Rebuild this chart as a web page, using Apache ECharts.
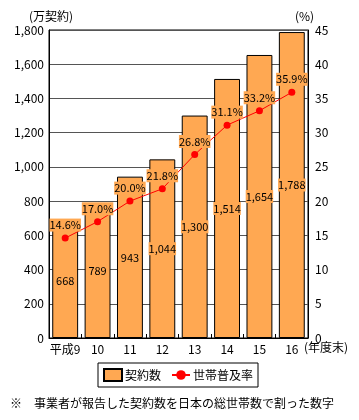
<!DOCTYPE html>
<html>
<head>
<meta charset="utf-8">
<script src="https://cdn.jsdelivr.net/npm/echarts@6/dist/echarts.min.js"></script>
<style>html,body{margin:0;padding:0;background:#fff;}#c{width:359px;height:420px;}</style>
</head>
<body>
<div id="c"></div>
<script>
var categories = ['平成9','10','11','12','13','14','15','16'];
var contracts = [668,789,943,1044,1300,1514,1654,1788];
var rates = [14.6,17.0,20.0,21.8,26.8,31.1,33.2,35.9];
var leftTicks = [0,1800,200];
var rightTicks = [0,45,5];

var FONT = '"Noto Sans CJK JP", sans-serif';
var ORANGE = '#FFA852';
var chart = echarts.init(document.getElementById('c'), null, {renderer:'canvas'});
chart.setOption({
  animation: false,
  textStyle: {fontFamily: FONT},
  grid: {left: 49, right: 51, top: 30, bottom: 82, show: true, borderColor: '#000', borderWidth: 1},
  legend: {
    left: 98, top: 363, itemGap: 10, itemWidth: 18, itemHeight: 12,
    borderColor: '#000', borderWidth: 1, padding: [5, 5, 5, 5],
    textStyle: {fontFamily: FONT, fontSize: 12, color: '#000', padding: [0, 0, 0, -2]},
    data: [{name:'契約数', icon:'rect'}, {name:'世帯普及率'}]
  },
  xAxis: {
    type: 'category', data: categories,
    axisLine: {lineStyle: {color: '#000'}},
    axisTick: {show: true, inside: true, length: 4, lineStyle: {color: '#000'}},
    axisLabel: {color: '#000', fontSize: 12, margin: 5, fontFamily: FONT, interval: 0, hideOverlap: false}
  },
  yAxis: [{
    type: 'value', min: leftTicks[0], max: leftTicks[1], interval: leftTicks[2],
    axisLine: {show: true, lineStyle: {color: '#000'}},
    axisTick: {show: false},
    splitLine: {lineStyle: {color: '#555'}},
    axisLabel: {color: '#000', fontSize: 12, margin: 5, fontFamily: FONT,
      formatter: function(v){ return v.toLocaleString('en-US'); }}
  },{
    type: 'value', min: rightTicks[0], max: rightTicks[1], interval: rightTicks[2],
    axisLine: {show: true, lineStyle: {color: '#000'}},
    axisTick: {show: false},
    splitLine: {show: false},
    axisLabel: {color: '#000', fontSize: 12, margin: 7, fontFamily: FONT}
  }],
  series: [{
    name: '契約数', type: 'bar', data: contracts, barWidth: '80%',
    itemStyle: {color: ORANGE, borderColor: '#000', borderWidth: 1},
    label: {show: true, position: 'inside', color: '#000', fontSize: 11, fontFamily: FONT,
      backgroundColor: ORANGE, padding: [1, 0],
      formatter: function(p){ return p.value.toLocaleString('en-US'); }},
    z: 2
  },{
    name: '世帯普及率', type: 'line', yAxisIndex: 1, data: rates,
    symbol: 'circle', symbolSize: 7,
    lineStyle: {color: '#FF0000', width: 1},
    itemStyle: {color: '#FF0000'},
    label: {show: true, position: 'top', distance: 3, color: '#000', fontSize: 11, fontFamily: FONT,
      backgroundColor: ORANGE, padding: [1, 0],
      formatter: function(p){ return p.value.toFixed(1) + '%'; }},
    z: 3
  }],
  graphic: [
    {type: 'text', left: 29, top: 10, style: {text: '(万契約)', font: '12px ' + FONT, fill: '#000'}},
    {type: 'text', left: 295, top: 10, style: {text: '(%)', font: '12px ' + FONT, fill: '#000'}},
    {type: 'text', left: 304, top: 341, style: {text: '(年度末)', font: '12px ' + FONT, fill: '#000'}},
    {type: 'text', left: 10, top: 397, style: {text: '※　事業者が報告した契約数を日本の総世帯数で割った数字', font: '12px ' + FONT, fill: '#000'}}
  ]
});
</script>
</body>
</html>
